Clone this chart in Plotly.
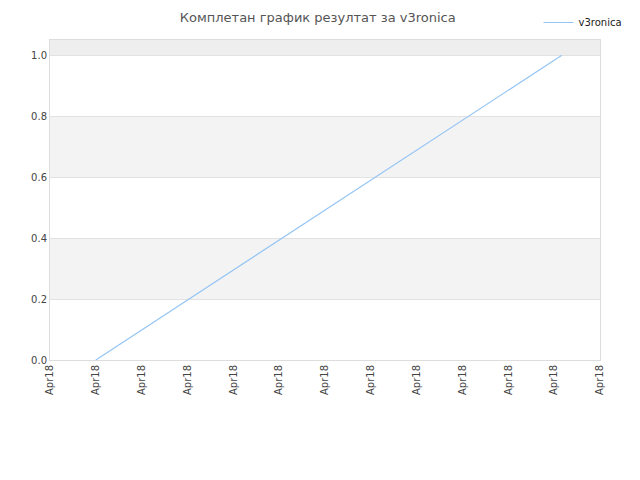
import plotly.graph_objects as go

# ---- data ----
times = ["2018-04-18 01:00", "2018-04-18 11:10"]
scores = [0.0, 1.0]
series_name = "v3ronica"
tick_times = ["2018-04-18 %02d:00" % h for h in range(13)]
y_ticks = [0.0, 0.2, 0.4, 0.6, 0.8, 1.0]
y_max = 1.05

fig = go.Figure()
fig.add_trace(go.Scatter(
    x=times, y=scores, mode="lines", name=series_name,
    line=dict(color="#95c5f5", width=1.2),
))

# alternating background bands
bands = []
edges = y_ticks + [y_max]
for i in range(len(edges) - 1):
    if i % 2 == 1:
        shade = "#eeeeee" if edges[i + 1] == y_max else "#f3f3f3"
        bands.append(dict(type="rect", xref="paper", yref="y", x0=0, x1=1,
                          y0=edges[i], y1=edges[i + 1], fillcolor=shade,
                          line=dict(width=0), layer="below"))

# page body adds an 8px offset, so margins are shifted by that much
fig.update_layout(
    width=640, height=480,
    margin=dict(l=42, r=48, t=32, b=128, autoexpand=False),
    paper_bgcolor="white", plot_bgcolor="white",
    font=dict(family="DejaVu Sans", size=10, color="#444"),
    title=dict(text="Комплетан график резултат за v3ronica", x=0.484, xanchor="center",
               xref="container", y=0.99, yanchor="top", font=dict(size=13, color="#555")),
    showlegend=True,
    legend=dict(x=0.968, xanchor="right", y=1.02, yanchor="top", xref="container",
                yref="container", font=dict(size=10, color="#222"),
                bgcolor="rgba(0,0,0,0)"),
    shapes=bands,
)
fig.update_xaxes(
    type="date", range=[tick_times[0], tick_times[-1]],
    tickmode="array", tickvals=tick_times, ticktext=["Apr18"] * len(tick_times),
    tickangle=-90, showgrid=False, showline=True, linecolor="#dddddd", mirror=True,
    ticks="", zeroline=False, automargin=False,
)
fig.update_yaxes(
    range=[0, y_max], tickvals=y_ticks, tickformat=".1f",
    showgrid=True, gridcolor="#e2e2e2", showline=True, linecolor="#dddddd",
    mirror=True, zeroline=False, ticks="", automargin=False,
)

fig.write_html("out.html")
